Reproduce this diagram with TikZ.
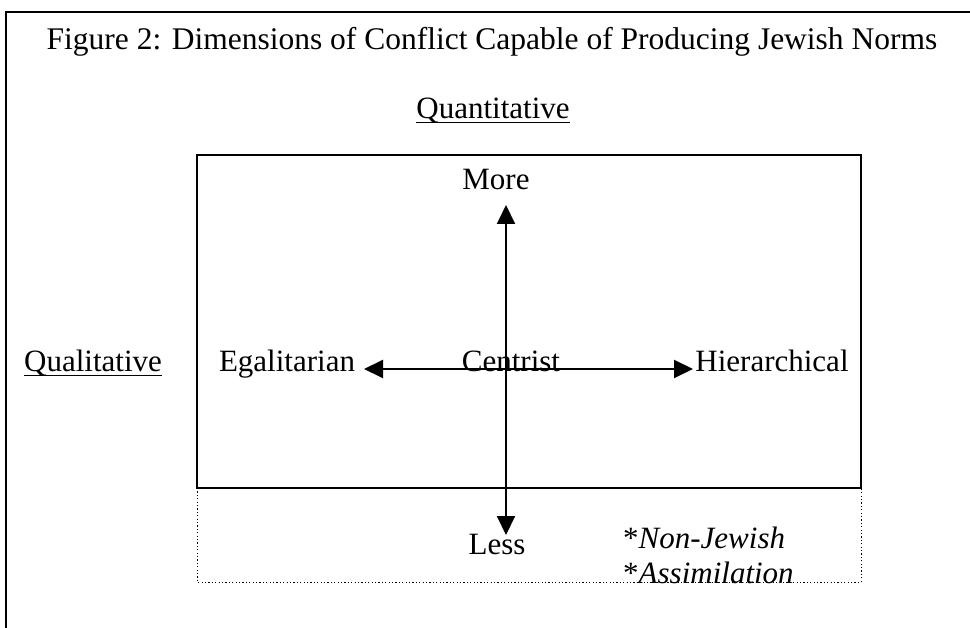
\documentclass[tikz,border=0pt]{standalone}
\usepackage{fontspec}
\setmainfont{Liberation Serif}
\usetikzlibrary{arrows.meta}
\begin{document}
\begin{tikzpicture}[x=1pt,y=-1pt,
  lbl/.style={font=\fontsize{31}{36}\selectfont, inner sep=0pt, anchor=base},
  frameline/.style={line width=2pt},
  dotline/.style={line width=1pt, dash pattern=on 1.2pt off 2.2pt},
  axis/.style={line width=2pt, {Triangle[length=19pt,width=18pt]}-{Triangle[length=19pt,width=18pt]}},
  uline/.style={line width=1.5pt}]
\useasboundingbox (0,0) rectangle (970,628);
% outer frame (top and left edges visible)
\draw[frameline] (6,628) -- (6,12) -- (970,12);
% main box and dotted extension
\draw[frameline] (197,155) rectangle (861,488);
\draw[dotline] (197,488) -- (197,582) -- (861,582) -- (861,488);
% texts
\node[lbl, font=\fontsize{31.5}{36}\selectfont] (title) at (492,50) {Figure 2: Dimensions of Conflict Capable of Producing Jewish Norms};
\node[lbl] (quant) at (493,119) {Quantitative};
\node[lbl] (qual) at (93,372) {Qualitative};
\node[lbl] (egal) at (287,372) {Egalitarian};
\node[lbl] (cent) at (511,372) {Centrist};
\node[lbl] (hier) at (772,372) {Hierarchical};
\node[lbl] (more) at (496,190) {More};
\node[lbl] (less) at (497,554) {Less};
\node[lbl, anchor=base west] (nonj) at (623,548) {*\textit{Non-Jewish}};
\node[lbl, anchor=base west] (assim) at (623,583) {*\textit{Assimilation}};
% underlines
\draw[uline] ([yshift=-3.5pt]quant.base west) -- ([yshift=-3.5pt]quant.base east);
\draw[uline] ([yshift=-3.5pt]qual.base west) -- ([yshift=-3.5pt]qual.base east);
% axes
\coordinate (up) at (506,205);
\coordinate (down) at (506,535);
\coordinate (left) at (364,369);
\coordinate (right) at (693,369);
\draw[axis] (up) -- (down);
\draw[axis] (left) -- (right);
\end{tikzpicture}
\end{document}
